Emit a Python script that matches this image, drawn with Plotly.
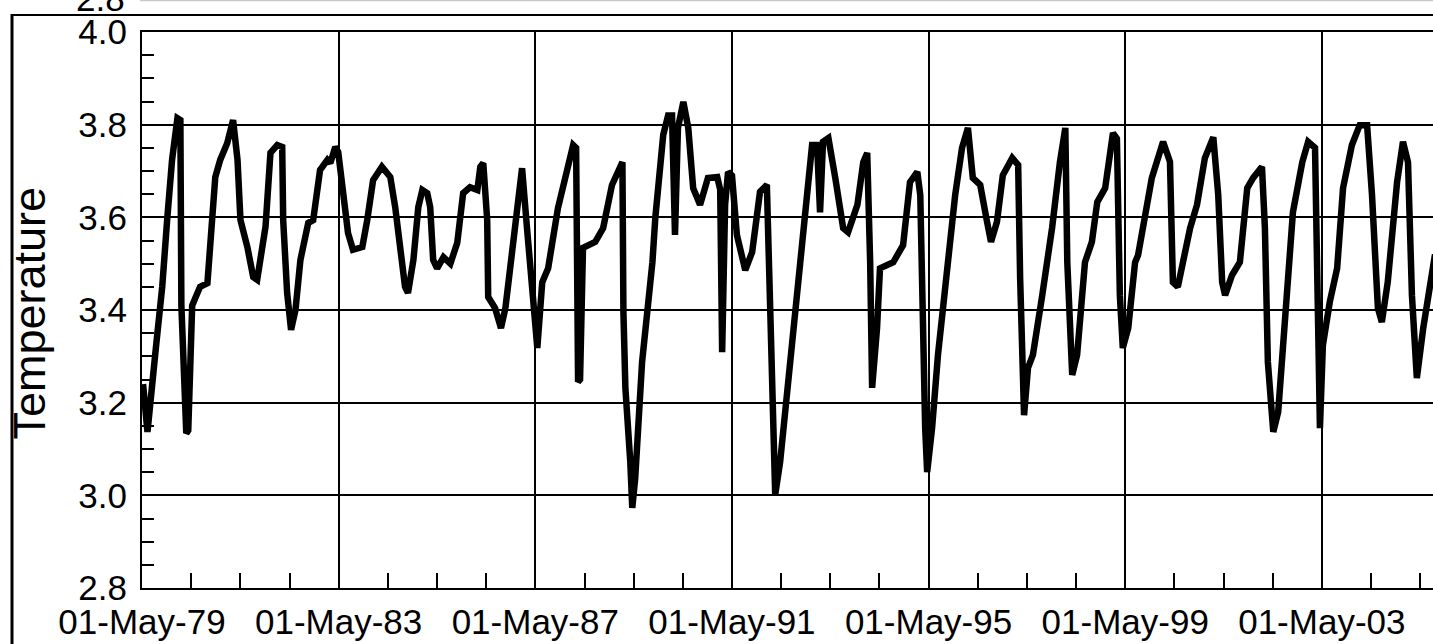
import plotly.graph_objects as go
from datetime import datetime, timedelta

# time (decimal years) and temperature values
t_years = [
    1979.35, 1979.44, 1979.60, 1979.74, 1979.84, 1979.94, 1980.05, 1980.11, 1980.13, 1980.23,
    1980.27, 1980.35, 1980.51, 1980.66, 1980.82, 1980.92, 1981.06, 1981.18, 1981.27, 1981.33,
    1981.47, 1981.59, 1981.67, 1981.73, 1981.84, 1981.94, 1982.08, 1982.18, 1982.20, 1982.28,
    1982.36, 1982.45, 1982.55, 1982.71, 1982.81, 1982.95, 1983.10, 1983.16, 1983.26, 1983.32,
    1983.42, 1983.52, 1983.62, 1983.81, 1983.91, 1984.03, 1984.21, 1984.38, 1984.48, 1984.58,
    1984.68, 1984.74, 1984.85, 1984.95, 1985.03, 1985.13, 1985.19, 1985.25, 1985.33, 1985.46,
    1985.60, 1985.74, 1985.86, 1986.00, 1986.15, 1986.21, 1986.27, 1986.35, 1986.37, 1986.51,
    1986.63, 1986.72, 1986.86, 1986.98, 1987.06, 1987.16, 1987.27, 1987.37, 1987.47, 1987.59,
    1987.79, 1987.98, 1988.10, 1988.16, 1988.18, 1988.20, 1988.24, 1988.30, 1988.55, 1988.71,
    1988.89, 1989.10, 1989.12, 1989.16, 1989.26, 1989.30, 1989.36, 1989.50, 1989.71, 1989.77,
    1989.93, 1990.03, 1990.11, 1990.17, 1990.23, 1990.34, 1990.44, 1990.54, 1990.68, 1990.84,
    1991.03, 1991.09, 1991.13, 1991.19, 1991.25, 1991.33, 1991.43, 1991.60, 1991.74, 1991.90,
    1992.04, 1992.11, 1992.17, 1992.21, 1992.31, 1992.45, 1992.65, 1992.82, 1992.96, 1993.06,
    1993.12, 1993.18, 1993.29, 1993.43, 1993.59, 1993.69, 1993.88, 1994.00, 1994.08, 1994.14,
    1994.18, 1994.28, 1994.34, 1994.61, 1994.81, 1994.95, 1995.10, 1995.16, 1995.20, 1995.26,
    1995.30, 1995.40, 1995.52, 1995.73, 1995.87, 1996.01, 1996.13, 1996.23, 1996.38, 1996.52,
    1996.60, 1996.72, 1996.84, 1997.03, 1997.15, 1997.19, 1997.23, 1997.27, 1997.35, 1997.45,
    1997.64, 1997.84, 1998.00, 1998.11, 1998.15, 1998.21, 1998.25, 1998.35, 1998.51, 1998.65,
    1998.76, 1998.92, 1999.08, 1999.16, 1999.22, 1999.28, 1999.39, 1999.53, 1999.59, 1999.87,
    2000.10, 2000.24, 2000.30, 2000.40, 2000.55, 2000.65, 2000.79, 2000.95, 2001.12, 2001.22,
    2001.30, 2001.36, 2001.50, 2001.66, 2001.81, 2001.93, 2002.11, 2002.17, 2002.23, 2002.34,
    2002.44, 2002.58, 2002.74, 2002.93, 2003.05, 2003.19, 2003.23, 2003.29, 2003.35, 2003.49,
    2003.64, 2003.76, 2003.94, 2004.10, 2004.25, 2004.35, 2004.47, 2004.55, 2004.67, 2004.86,
    2004.98, 2005.08, 2005.16, 2005.26, 2005.39, 2005.53, 2005.63,
]
temperature = [
    3.24, 3.137, 3.307, 3.45, 3.594, 3.724, 3.814, 3.81, 3.41, 3.134,
    3.14, 3.41, 3.45, 3.458, 3.687, 3.724, 3.76, 3.81, 3.724, 3.594,
    3.536, 3.471, 3.465, 3.50, 3.58, 3.739, 3.756, 3.752, 3.594, 3.437,
    3.357, 3.40, 3.508, 3.588, 3.594, 3.702, 3.724, 3.717, 3.752, 3.741,
    3.665, 3.566, 3.53, 3.536, 3.594, 3.68, 3.709, 3.687, 3.622, 3.523,
    3.45, 3.437, 3.508, 3.622, 3.659, 3.652, 3.622, 3.508, 3.49, 3.514,
    3.50, 3.545, 3.652, 3.665, 3.659, 3.709, 3.717, 3.594, 3.428, 3.404,
    3.361, 3.404, 3.518, 3.627, 3.706, 3.577, 3.447, 3.318, 3.46, 3.49,
    3.62, 3.698, 3.756, 3.75, 3.404, 3.245, 3.25, 3.534, 3.547, 3.577,
    3.67, 3.719, 3.396, 3.232, 3.072, 2.973, 3.037, 3.288, 3.503, 3.60,
    3.778, 3.82, 3.82, 3.562, 3.793, 3.849, 3.793, 3.663, 3.627, 3.685,
    3.687, 3.66, 3.309, 3.627, 3.698, 3.69, 3.562, 3.486, 3.525, 3.655,
    3.67, 3.374, 3.145, 3.001, 3.072, 3.217, 3.417, 3.611, 3.756, 3.756,
    3.611, 3.763, 3.771, 3.685, 3.577, 3.568, 3.627, 3.719, 3.739, 3.503,
    3.232, 3.361, 3.49, 3.503, 3.54, 3.676, 3.698, 3.648, 3.361, 3.145,
    3.05, 3.145, 3.303, 3.518, 3.648, 3.75, 3.793, 3.685, 3.67, 3.59,
    3.547, 3.59, 3.691, 3.728, 3.713, 3.469, 3.253, 3.173, 3.275, 3.303,
    3.432, 3.577, 3.719, 3.793, 3.503, 3.324, 3.26, 3.303, 3.503, 3.547,
    3.633, 3.663, 3.782, 3.77, 3.432, 3.318, 3.361, 3.503, 3.518, 3.685,
    3.763, 3.72, 3.46, 3.45, 3.525, 3.577, 3.627, 3.728, 3.773, 3.648,
    3.46, 3.432, 3.475, 3.503, 3.663, 3.685, 3.709, 3.577, 3.288, 3.137,
    3.18, 3.396, 3.611, 3.719, 3.763, 3.75, 3.469, 3.145, 3.324, 3.417,
    3.49, 3.663, 3.756, 3.799, 3.799, 3.648, 3.404, 3.374, 3.46, 3.676,
    3.763, 3.719, 3.432, 3.253, 3.361, 3.46, 3.52,
]

y_title = "Temperature"
x_start = "1979-05-01"
x_end = "2005-08-04"
y_range = [2.8, 4.0]


def to_date(t):
    yr = int(t)
    return datetime(yr, 1, 1) + timedelta(days=(t - yr) * 365.25)


dates = [to_date(t) for t in t_years]

FONT = "Arial, Liberation Sans, Helvetica, sans-serif"
TICK_SIZE = 35

fig = go.Figure()
fig.add_trace(go.Scatter(
    x=dates, y=temperature, mode="lines",
    line=dict(color="black", width=6.5),
    showlegend=False, hoverinfo="skip",
))

fig.update_layout(
    width=1433, height=644,
    margin=dict(l=142, r=0, t=32, b=56, autoexpand=False),
    paper_bgcolor="white", plot_bgcolor="white",
    font=dict(family=FONT, color="black", size=TICK_SIZE),
    showlegend=False,
)

fig.update_xaxes(
    type="date", range=[x_start, x_end],
    tick0=x_start, dtick="M48", tickformat="%d-%b-%y",
    ticks="inside", ticklen=15, tickwidth=1.5, tickcolor="black",
    showgrid=True, gridcolor="black", gridwidth=1.5,
    showline=True, linecolor="black", linewidth=2, mirror=True,
    zeroline=False, ticklabelstandoff=2,
    tickfont=dict(family=FONT, size=TICK_SIZE, color="black"),
    minor=dict(tick0=x_start, dtick="M12", ticks="inside", ticklen=15,
               tickwidth=1.5, tickcolor="black", showgrid=False),
)

fig.update_yaxes(
    range=y_range, dtick=0.2, tick0=2.8, tickformat=".1f",
    ticks="inside", ticklen=12, tickwidth=1.5, tickcolor="black",
    showgrid=True, gridcolor="black", gridwidth=1.5,
    showline=True, linecolor="black", linewidth=2, mirror=False,
    zeroline=False, ticklabelstandoff=6,
    tickfont=dict(family=FONT, size=TICK_SIZE, color="black"),
    minor=dict(dtick=0.05, ticks="inside", ticklen=12, tickwidth=1.5,
               tickcolor="black", showgrid=False),
)

W, Hp = 1291.0, 556.0  # plot area size in px


def px(xp):
    return (xp - 142) / W


def py(yp):
    return (588 - yp) / Hp


# frame remnants of the panel above
fig.add_shape(type="line", xref="paper", yref="paper",
              x0=px(12), x1=px(12), y0=py(14), y1=py(660),
              line=dict(color="black", width=3))
fig.add_shape(type="line", xref="paper", yref="paper",
              x0=px(12), x1=px(1440), y0=py(15), y1=py(15),
              line=dict(color="black", width=2))
fig.add_shape(type="line", xref="paper", yref="paper",
              x0=px(140), x1=px(1440), y0=py(0.5), y1=py(0.5),
              line=dict(color="#c8c8c8", width=1.5))

# cut-off tick label of the panel above
fig.add_annotation(text="2.8", xref="paper", yref="paper",
                   x=px(127), y=py(20), xanchor="right", yanchor="bottom",
                   showarrow=False, font=dict(family=FONT, size=TICK_SIZE, color="black"))

# y-axis title
fig.add_annotation(text=y_title, xref="paper", yref="paper",
                   x=px(1), y=py(313), xanchor="left", yanchor="middle",
                   textangle=-90, showarrow=False,
                   font=dict(family=FONT, size=45, color="black"))

fig.write_html("out.html",
               config={"displayModeBar": False},
               post_script="document.body.style.margin='0';document.body.style.overflow='hidden';")
